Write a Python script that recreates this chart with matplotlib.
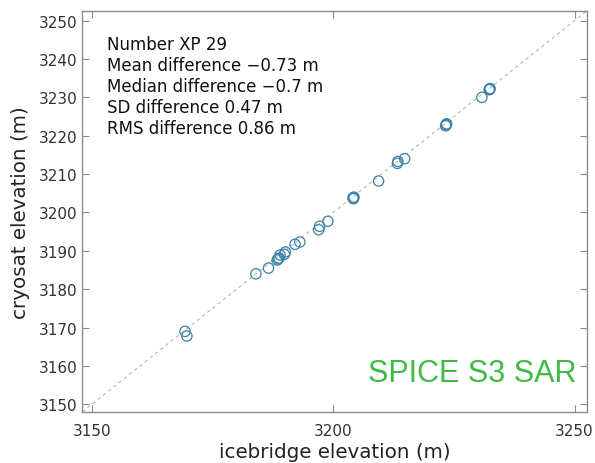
import matplotlib.pyplot as plt

# icebridge vs cryosat elevation pairs (m)
icebridge = [3169.3, 3169.7, 3184.0, 3186.6, 3188.4, 3188.8, 3189.9, 3190.1, 3189.0,
             3192.1, 3193.1, 3197.0, 3197.2, 3198.9, 3204.2, 3204.3, 3209.4, 3213.3,
             3213.4, 3214.8, 3223.3, 3223.4, 3223.5, 3230.8, 3232.3, 3232.5, 3232.4,
             3188.6, 3204.1]
cryosat = [3169.0, 3167.8, 3184.0, 3185.5, 3187.6, 3188.1, 3189.1, 3189.7, 3188.9,
           3191.7, 3192.3, 3195.5, 3196.4, 3197.7, 3203.6, 3204.0, 3208.2, 3212.8,
           3213.3, 3214.0, 3222.6, 3222.9, 3223.1, 3230.0, 3232.0, 3232.3, 3232.1,
           3187.9, 3203.8]

stats_lines = ["Number XP 29",
               "Mean difference \u22120.73 m",
               "Median difference \u22120.7 m",
               "SD difference 0.47 m",
               "RMS difference 0.86 m"]
panel_label = "SPICE S3 SAR"

lims = (3148.0, 3252.5)

fig = plt.figure(figsize=(5.95, 4.64), dpi=100)
ax = fig.add_axes([0.138, 0.110, 0.848, 0.864])

# 1:1 reference line
ax.plot(lims, lims, linestyle=(0, (3, 3)), color='#b5b5b5', linewidth=0.8, zorder=1)

ax.scatter(icebridge, cryosat, s=55, facecolors='none', edgecolors='#3a82a8',
           linewidths=0.9, zorder=2)

ax.set_xlim(lims)
ax.set_ylim(lims)
ax.set_xticks([3150, 3200, 3250])
ax.set_yticks(range(3150, 3251, 10))

ax.tick_params(direction='in', top=True, right=True, length=5, width=0.8,
               colors='#888888', labelcolor='#333333', labelsize=11)
ax.tick_params(axis='x', pad=8)
for sp in ax.spines.values():
    sp.set_color('#8c8c8c')
    sp.set_linewidth(1.0)

ax.set_xlabel('icebridge elevation (m)', fontsize=14.3, color='#222222', labelpad=3)
ax.set_ylabel('cryosat elevation (m)', fontsize=14.3, color='#222222', labelpad=6)

ax.text(0.05, 0.94, "\n".join(stats_lines), transform=ax.transAxes, fontsize=12,
        va='top', ha='left', color='#111111', linespacing=1.22)

ax.text(0.98, 0.06, panel_label, transform=ax.transAxes, fontsize=22,
        family='Liberation Sans', color='#3dbb45', ha='right', va='bottom')

fig.savefig('out.png', dpi=100)
